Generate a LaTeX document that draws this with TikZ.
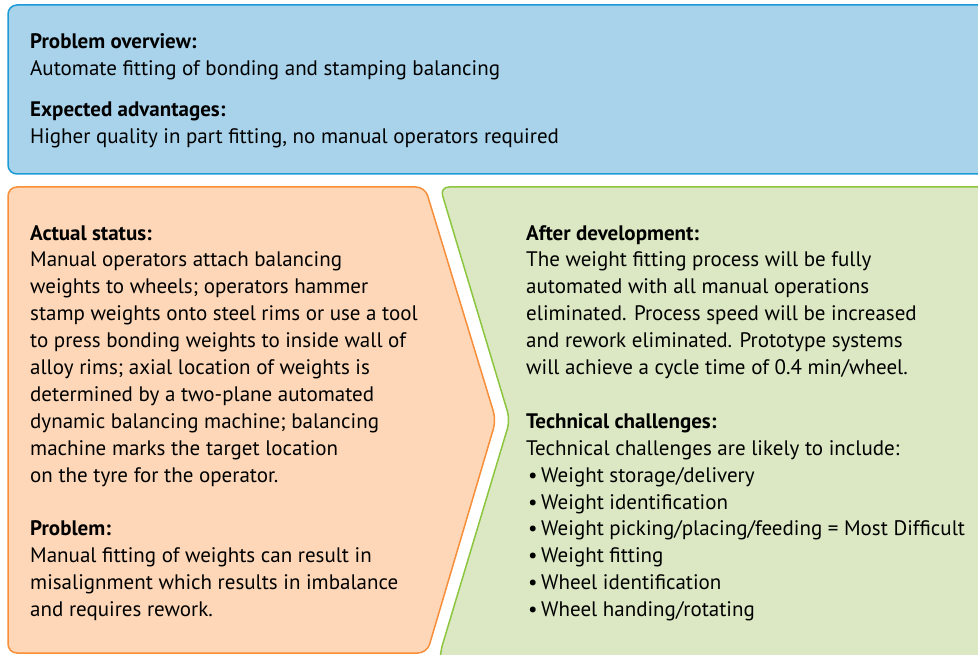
\documentclass[tikz,border=0pt]{standalone}
\usepackage{fontspec}
\setmainfont{PT Sans}
\definecolor{bluefill}{HTML}{A8D3EB}
\definecolor{blueline}{HTML}{1B9AD6}
\definecolor{orfill}{HTML}{FDD7B7}
\definecolor{orline}{HTML}{F68E3A}
\definecolor{grfill}{HTML}{DBE8C3}
\definecolor{grline}{HTML}{8CC640}
\tikzset{
  panel/.style={line width=1.5pt, rounded corners=9pt},
  txt/.style={anchor=north west, inner sep=0pt, align=left, font=\fontsize{21}{26.9}\selectfont, text=black},
}
\newcommand{\hd}[1]{\textbf{#1}}
\newcommand{\bul}{\makebox[15pt][l]{\hspace{2pt}•}}
\begin{document}
\begin{tikzpicture}[x=1pt,y=-1pt]
\useasboundingbox (0,0) rectangle (978,655);
\begin{scope}
\clip (0,0) rectangle (978,655);
\draw[panel, fill=bluefill, draw=blueline] (8,5) -- (995,5) -- (995,174) -- (8,174) -- cycle;
\draw[panel, fill=orfill, draw=orline] (8,187) -- (425,187) -- (496,420) -- (427,653) -- (8,653) -- cycle;
\draw[panel, fill=grfill, draw=grline] (440,187) -- (995,187) -- (995,670) -- (440,670) -- (440,653) -- (510,420) -- cycle;
\end{scope}
\node[txt] (blue) at (30,33) {\hd{Problem overview:}\\Automate fitting of bonding and stamping balancing\\[14.5pt]\hd{Expected advantages:}\\Higher quality in part fitting, no manual operators required};
\node[txt] (orange) at (30,225) {\hd{Actual status:}\\Manual operators attach balancing\\weights to wheels; operators hammer\\stamp weights onto steel rims or use a tool\\to press bonding weights to inside wall of\\alloy rims; axial location of weights is\\determined by a two-plane automated\\dynamic balancing machine; balancing\\machine marks the target location\\on the tyre for the operator.\\[26.9pt]\hd{Problem:}\\Manual fitting of weights can result in\\misalignment which results in imbalance\\and requires rework.};
\node[txt] (green) at (526,225) {\hd{After development:}\\The weight fitting process will be fully\\automated with all manual operations\\eliminated. Process speed will be increased\\and rework eliminated. Prototype systems\\will achieve a cycle time of 0.4 min/wheel.\\[26.9pt]\hd{Technical challenges:}\\Technical challenges are likely to include:\\\bul Weight storage/delivery\\\bul Weight identification\\\bul Weight picking/placing/feeding = Most Difficult\\\bul Weight fitting\\\bul Wheel identification\\\bul Wheel handing/rotating};
\end{tikzpicture}
\end{document}
